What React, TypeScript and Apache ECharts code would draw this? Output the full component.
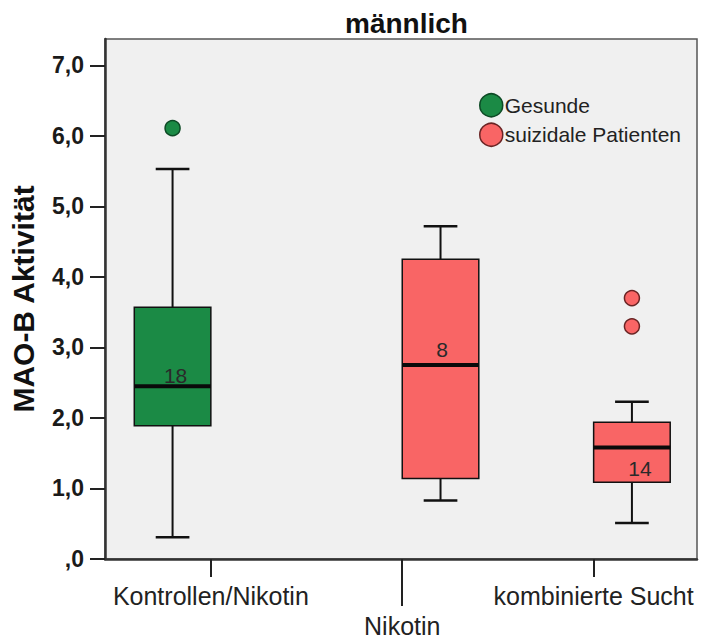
import React, { useEffect, useRef } from "react";
import * as echarts from "echarts";

// Categories on the x axis and the two groups shown in the legend
const categories = ["Kontrollen/Nikotin", "Nikotin", "kombinierte Sucht"];
const groups = ["Gesunde", "suizidale Patienten"];

// One box per entry: category index, group index, five-number summary, N
const boxCategory = [0, 1, 2];
const boxGroup = [0, 1, 1];
const whiskerLow = [0.31, 0.83, 0.51];
const quartile1 = [1.89, 1.14, 1.09];
const medians = [2.45, 2.75, 1.58];
const quartile3 = [3.57, 4.25, 1.94];
const whiskerHigh = [5.53, 4.72, 2.23];
const counts = [18, 8, 14];

// Outliers: category index, group index, value
const outlierCategory = [0, 2, 2];
const outlierGroup = [0, 1, 1];
const outlierValue = [6.11, 3.7, 3.3];

const yTicks = [0, 1, 2, 3, 4, 5, 6, 7];

// Styling
const FONT = "'Liberation Sans', Arial, Helvetica, sans-serif";
const groupFill = ["#1b8a45", "#f96565"];
const groupBorder = ["#0d4a25", "#6a2424"];
const SLOT = 0.2; // clustered offset of each group from the category centre
const BOX_HALF = 0.2;
const CAP_HALF = 0.088;
// count label nudges (px) relative to box centre / median line
const countDx = [3, 1.5, 8];
const countDy = [-11, -16, 21];

const slotX = (cat: number, grp: number) => cat + (grp === 0 ? -SLOT : SLOT);

export default function App() {
  const ref = useRef<HTMLDivElement>(null);

  useEffect(() => {
    document.body.style.margin = "0";
    if (!ref.current) return;
    const chart = echarts.init(ref.current, null, { renderer: "svg" });

    const boxSeries = groups.map((name, g) => {
      const data: any[] = [];
      boxCategory.forEach((c, i) => {
        if (boxGroup[i] !== g) return;
        data.push([
          slotX(c, g),
          whiskerLow[i],
          quartile1[i],
          medians[i],
          quartile3[i],
          whiskerHigh[i],
          counts[i],
          i,
        ]);
      });
      return {
        type: "custom",
        name,
        xAxisIndex: 0,
        yAxisIndex: 0,
        encode: { x: 0, y: [1, 2, 3, 4, 5] },
        data,
        z: 3,
        renderItem: (params: any, api: any) => {
          const x = api.value(0);
          const idx = api.value(7);
          const [cx, yLow] = api.coord([x, api.value(1)]);
          const yQ1 = api.coord([x, api.value(2)])[1];
          const yMed = api.coord([x, api.value(3)])[1];
          const yQ3 = api.coord([x, api.value(4)])[1];
          const yHigh = api.coord([x, api.value(5)])[1];
          const half = api.size([BOX_HALF, 0])[0];
          const cap = api.size([CAP_HALF, 0])[0];
          const stroke = "#111";
          return {
            type: "group",
            children: [
              { type: "line", shape: { x1: cx, y1: yLow, x2: cx, y2: yQ1 }, style: { stroke, lineWidth: 2 } },
              { type: "line", shape: { x1: cx, y1: yQ3, x2: cx, y2: yHigh }, style: { stroke, lineWidth: 2 } },
              { type: "line", shape: { x1: cx - cap, y1: yLow, x2: cx + cap, y2: yLow }, style: { stroke, lineWidth: 2.5 } },
              { type: "line", shape: { x1: cx - cap, y1: yHigh, x2: cx + cap, y2: yHigh }, style: { stroke, lineWidth: 2.5 } },
              {
                type: "rect",
                shape: { x: cx - half, y: yQ3, width: half * 2, height: yQ1 - yQ3 },
                style: { fill: groupFill[g], stroke, lineWidth: 1.5 },
              },
              { type: "line", shape: { x1: cx - half, y1: yMed, x2: cx + half, y2: yMed }, style: { stroke: "#0a0a0a", lineWidth: 4 } },
              {
                type: "text",
                style: {
                  text: String(api.value(6)),
                  x: cx + countDx[idx],
                  y: yMed + countDy[idx],
                  align: "center",
                  verticalAlign: "middle",
                  fill: "#2a2a2a",
                  fontSize: 21,
                  fontFamily: FONT,
                },
              },
            ],
          };
        },
      };
    });

    const outlierSeries = groups.map((name, g) => ({
      type: "scatter",
      name,
      xAxisIndex: 0,
      yAxisIndex: 0,
      symbol: "circle",
      symbolSize: 15,
      z: 4,
      itemStyle: { color: groupFill[g], borderColor: groupBorder[g], borderWidth: 1.5, opacity: 1 },
      data: outlierValue
        .map((v, i) => (outlierGroup[i] === g ? [slotX(outlierCategory[i], g), v] : null))
        .filter((d) => d !== null),
    }));

    const xMin = -0.553;
    const xMax = 2.54;

    chart.setOption({
      animation: false,
      backgroundColor: "#ffffff",
      title: {
        text: "männlich",
        left: 340,
        top: 4,
        textStyle: { fontFamily: FONT, fontSize: 28, fontWeight: "bold", color: "#111" },
      },
      legend: {
        orient: "vertical",
        left: 474,
        top: 88,
        itemWidth: 23,
        itemHeight: 23,
        itemGap: 5,
        selectedMode: false,
        textStyle: { fontFamily: FONT, fontSize: 21, color: "#222", padding: [0, 0, 0, -3] },
        data: groups.map((name, g) => ({
          name,
          icon: "circle",
          itemStyle: { color: groupFill[g], borderColor: groupBorder[g], borderWidth: 1.5 },
        })),
      },
      grid: {
        left: 104,
        right: 4,
        top: 39,
        bottom: 76,
        show: true,
        backgroundColor: "#f0f0f0",
        borderColor: "#555",
        borderWidth: 1.5,
      },
      xAxis: [
        {
          type: "value",
          min: xMin,
          max: xMax,
          splitLine: { show: false },
          axisLine: { show: true, onZero: false, lineStyle: { color: "#333", width: 2.5 } },
          axisTick: { show: true, customValues: [0, 1, 2], length: 18, lineStyle: { color: "#222", width: 2 } },
          axisLabel: {
            customValues: [0, 1, 2],
            margin: 22,
            fontFamily: FONT,
            fontSize: 25,
            lineHeight: 30,
            color: "#222",
            formatter: (v: number) => (v === 1 ? "\n" + categories[1] : categories[Math.round(v)]),
          },
        },
        {
          type: "value",
          min: xMin,
          max: xMax,
          position: "bottom",
          splitLine: { show: false },
          axisLine: { show: false, onZero: false },
          axisLabel: { show: false },
          axisTick: { show: true, customValues: [1], length: 47, lineStyle: { color: "#222", width: 2 } },
        },
      ],
      yAxis: {
        type: "value",
        min: 0,
        max: 7.375,
        name: "MAO-B Aktivität",
        nameLocation: "middle",
        nameGap: 67,
        nameTextStyle: { fontFamily: FONT, fontSize: 30, fontWeight: "bold", color: "#111" },
        splitLine: { show: false },
        axisLine: { show: true, onZero: false, lineStyle: { color: "#333", width: 2.5 } },
        axisTick: { show: true, customValues: yTicks, length: 15, lineStyle: { color: "#222", width: 2 } },
        axisLabel: {
          customValues: yTicks,
          margin: 21,
          padding: [4, 0, 0, 0],
          fontFamily: FONT,
          fontSize: 23,
          fontWeight: "bold",
          color: "#1a1a1a",
          formatter: (v: number) => (v === 0 ? ",0" : v.toFixed(1).replace(".", ",")),
        },
      },
      series: [...boxSeries, ...outlierSeries],
    });

    return () => chart.dispose();
  }, []);

  return <div ref={ref} style={{ width: 701, height: 641 }} />;
}
